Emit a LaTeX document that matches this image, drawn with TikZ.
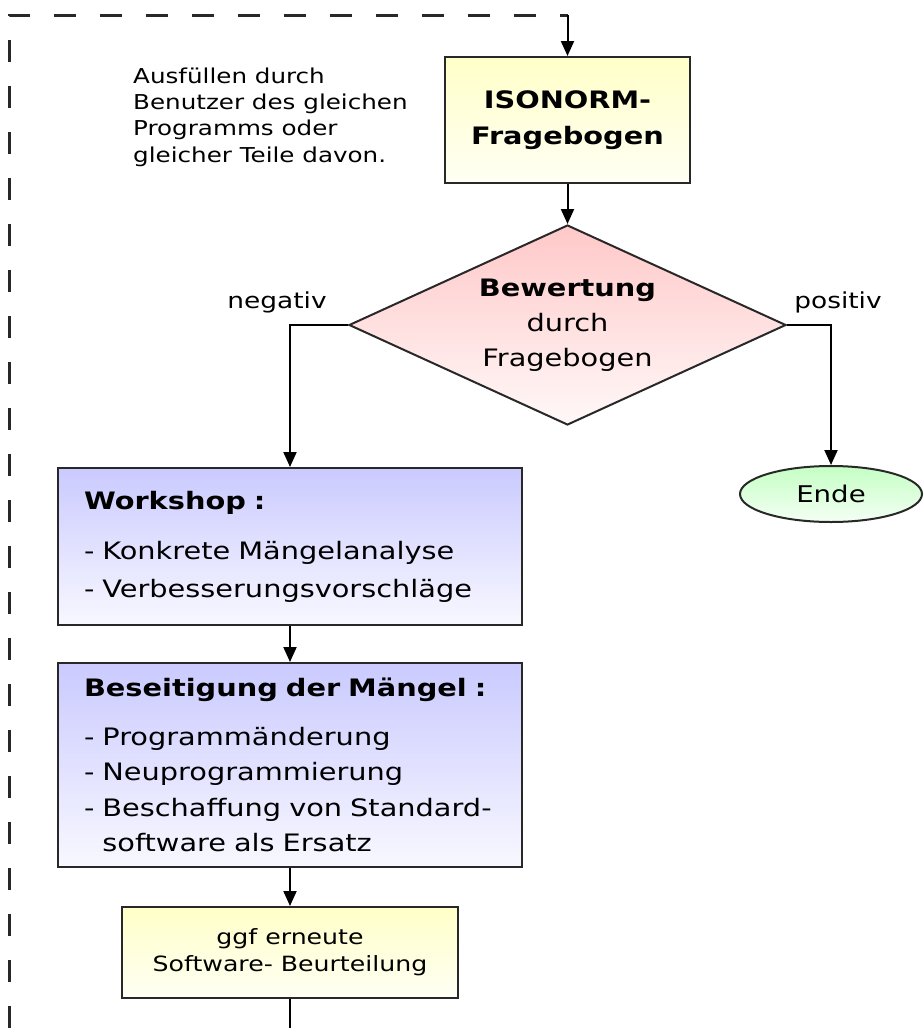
\documentclass[tikz,border=0pt]{standalone}
\usepackage{fontspec}
\setmainfont[FakeStretch=1.2]{DejaVu Sans}
\usetikzlibrary{arrows.meta,shapes.geometric}
\definecolor{BoxYellow}{RGB}{255,255,200}
\definecolor{BoxYellowLight}{RGB}{255,255,244}
\definecolor{BoxBlue}{RGB}{202,202,255}
\definecolor{BoxBlueLight}{RGB}{248,248,255}
\definecolor{BoxPink}{RGB}{255,200,200}
\definecolor{BoxPinkLight}{RGB}{255,248,248}
\definecolor{BoxGreen}{RGB}{196,255,196}
\definecolor{BoxGreenLight}{RGB}{244,255,244}
\definecolor{LineGray}{RGB}{40,40,40}
\tikzset{>={Triangle[width=13pt,length=15pt]}}
\tikzset{flowbox/.style={draw=LineGray,line width=2pt,inner sep=0pt}}
\tikzset{yellowbox/.style={flowbox,top color=BoxYellow,bottom color=BoxYellowLight,align=center}}
\tikzset{bluebox/.style={flowbox,top color=BoxBlue,bottom color=BoxBlueLight,align=left,
    minimum width=464pt,text width=412pt,inner xsep=26pt}}
\tikzset{flowline/.style={draw=black,line width=2pt}}
\tikzset{frameline/.style={draw=LineGray,line width=3pt,dash pattern=on 22pt off 24pt}}

\begin{document}
\begin{tikzpicture}[x=1pt,y=-1pt]
    \useasboundingbox (0,0) rectangle (923,1028);

    % nodes
    \node[anchor=west,align=left,inner sep=0pt,font=\fontsize{20.5}{26.3}\selectfont] (note) at (133,117)
        {Ausfüllen durch\\Benutzer des gleichen\\Programms oder\\gleicher Teile davon.};
    \node[yellowbox,minimum width=245pt,minimum height=126pt,font=\fontsize{24}{36}\selectfont\bfseries] (iso) at (567.5,120)
        {ISONORM-\\Fragebogen};
    \node[flowbox,diamond,aspect=2.2,minimum width=437pt,minimum height=200pt,
          top color=BoxPink,bottom color=BoxPinkLight,align=center,font=\fontsize{24}{35}\selectfont] (bew) at (567.5,325)
        {\textbf{Bewertung}\\durch\\Fragebogen};
    \node[flowbox,ellipse,minimum width=182pt,minimum height=56pt,
          top color=BoxGreen,bottom color=BoxGreenLight,font=\fontsize{23}{28}\selectfont] (ende) at (831,494) {Ende};
    \node[bluebox,minimum height=157pt,font=\fontsize{24}{38}\selectfont] (work) at (290,546.5)
        {\textbf{Workshop :}\\[12pt]- Konkrete Mängelanalyse\\- Verbesserungsvorschläge};
    \node[bluebox,minimum height=204pt,font=\fontsize{24}{35.5}\selectfont] (bes) at (290,765)
        {\textbf{Beseitigung der Mängel :}\\[13pt]- Programmänderung\\- Neuprogrammierung\\- Beschaffung von Standard-\\\phantom{- }software als Ersatz};
    \node[yellowbox,minimum width=336pt,minimum height=91pt,font=\fontsize{21}{27}\selectfont] (last) at (290,952.5)
        {ggf erneute\\Software- Beurteilung};

    % labels
    \node[font=\fontsize{22}{26}\selectfont] (neg) at (277,302) {negativ};
    \node[font=\fontsize{22}{26}\selectfont] (pos) at (838,302) {positiv};

    % frame coordinates
    \coordinate (framebot) at (9,1028);
    \coordinate (frametop) at (9,15);
    \coordinate (framecorner) at (567.5,15);
    \coordinate (lastend) at (290,1028);

    % connectors
    \draw[frameline] (framebot) -- (frametop) -- (framecorner);
    \draw[flowline,->] (framecorner) -- (iso.north);
    \draw[flowline,->] (iso.south) -- (bew.north);
    \draw[flowline,->] (bew.west) -| (work.north);
    \draw[flowline,->] (bew.east) -| (ende.north);
    \foreach \i/\j in {work/bes, bes/last} {
        \draw[flowline,->] (\i.south) -- (\j.north);
    }
    \draw[flowline] (last.south) -- (lastend);
\end{tikzpicture}
\end{document}
